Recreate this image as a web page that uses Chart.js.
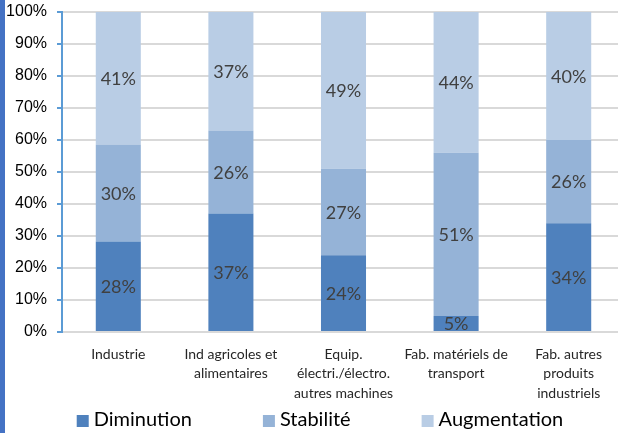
<!DOCTYPE html>
<html>
<head>
<meta charset="utf-8">
<script src="https://cdn.jsdelivr.net/npm/chart.js@4"></script>
<style>
    html, body { margin: 0; padding: 0; background: #fff; overflow: hidden; }
    #wrap { position: relative; width: 618px; height: 433px; overflow: hidden; }
    #strip { position: absolute; left: 0; top: 0; width: 5px; height: 433px; background: #4472C4; z-index: 2; }
    #chart { position: absolute; left: 5px; top: 0; }
</style>
</head>
<body>
<div id="wrap">
    <div id="strip"></div>
    <canvas id="chart" width="630" height="433"></canvas>
</div>
<script>
const categories = [
    'Industrie',
    ['Ind agricoles et', 'alimentaires'],
    ['Equip.', 'électri./électro.', 'autres machines'],
    ['Fab. matériels de', 'transport'],
    ['Fab. autres', 'produits', 'industriels']
];
const diminution = [28, 37, 24, 5, 34];
const stabilite = [30, 26, 27, 51, 26];
const augmentation = [41, 37, 49, 44, 40];
const yTicks = [0, 10, 20, 30, 40, 50, 60, 70, 80, 90, 100];

// 100% stacked: each bar is scaled to its total, labels keep the read value
const totals = diminution.map((v, i) => v + stabilite[i] + augmentation[i]);
const share = arr => arr.map((v, i) => v / totals[i] * 100);

const series = [
    { label: 'Diminution', raw: diminution, color: '#4F81BD' },
    { label: 'Stabilité', raw: stabilite, color: '#95B3D7' },
    { label: 'Augmentation', raw: augmentation, color: '#B9CDE5' }
];

const segmentLabels = {
    id: 'segmentLabels',
    afterDatasetsDraw(chart) {
        const ctx = chart.ctx;
        ctx.save();
        ctx.font = '18px Lato';
        ctx.fillStyle = '#404040';
        ctx.textAlign = 'center';
        ctx.textBaseline = 'middle';
        chart.data.datasets.forEach((ds, di) => {
            chart.getDatasetMeta(di).data.forEach((bar, i) => {
                const mid = (bar.y + bar.base) / 2;
                ctx.fillText(ds.raw[i] + '%', bar.x, mid + 1);
            });
        });
        ctx.restore();
    }
};

// Excel-like legend with wide gaps between entries
const wideLegend = {
    id: 'wideLegend',
    afterDraw(chart) {
        const ctx = chart.ctx;
        const box = 12, gap = 5, spacing = 71, y = 421;
        ctx.save();
        ctx.font = '20px Lato';
        ctx.textBaseline = 'middle';
        const items = chart.data.datasets.map(ds => ({
            text: ds.label,
            color: ds.backgroundColor,
            w: box + gap + ctx.measureText(ds.label).width
        }));
        const total = items.reduce((s, it) => s + it.w, 0) + spacing * (items.length - 1);
        let x = chart.width / 2 - total / 2;
        items.forEach(it => {
            ctx.fillStyle = it.color;
            ctx.fillRect(x, y - box / 2, box, box);
            ctx.fillStyle = '#000';
            ctx.fillText(it.text, x + box + gap, y - 1);
            x += it.w + spacing;
        });
        ctx.restore();
    }
};

new Chart(document.getElementById('chart'), {
    type: 'bar',
    data: {
        labels: categories,
        datasets: series.map(s => ({
            label: s.label,
            raw: s.raw,
            data: share(s.raw),
            backgroundColor: s.color,
            barPercentage: 0.4,
            categoryPercentage: 1
        }))
    },
    options: {
        responsive: false,
        animation: false,
        devicePixelRatio: 1,
        layout: { padding: { top: 0, right: 10, left: 0, bottom: 0 } },
        plugins: {
            tooltip: { enabled: false },
            legend: { display: false }
        },
        scales: {
            x: {
                stacked: true,
                grid: { display: false },
                border: { display: false },
                ticks: {
                    color: '#262626',
                    font: { family: 'Lato', size: 14, lineHeight: 1.38 },
                    padding: 5,
                    maxRotation: 0,
                    autoSkip: false
                },
                afterFit(scale) { scale.height = 101; }
            },
            y: {
                stacked: true,
                min: 0,
                max: 100,
                afterBuildTicks(scale) { scale.ticks = yTicks.map(v => ({ value: v })); },
                grid: { color: '#D9D9D9', lineWidth: 2, tickColor: '#5B9BD5', tickLength: 5 },
                border: { color: '#5B9BD5', width: 2 },
                ticks: {
                    color: '#000',
                    font: { family: 'Liberation Sans', size: 16 },
                    padding: 10,
                    callback: v => v + '%'
                },
                afterFit(scale) {
                    scale.width = 57;
                    scale.paddingTop = 12;
                }
            }
        }
    },
    plugins: [segmentLabels, wideLegend]
});
</script>
</body>
</html>
